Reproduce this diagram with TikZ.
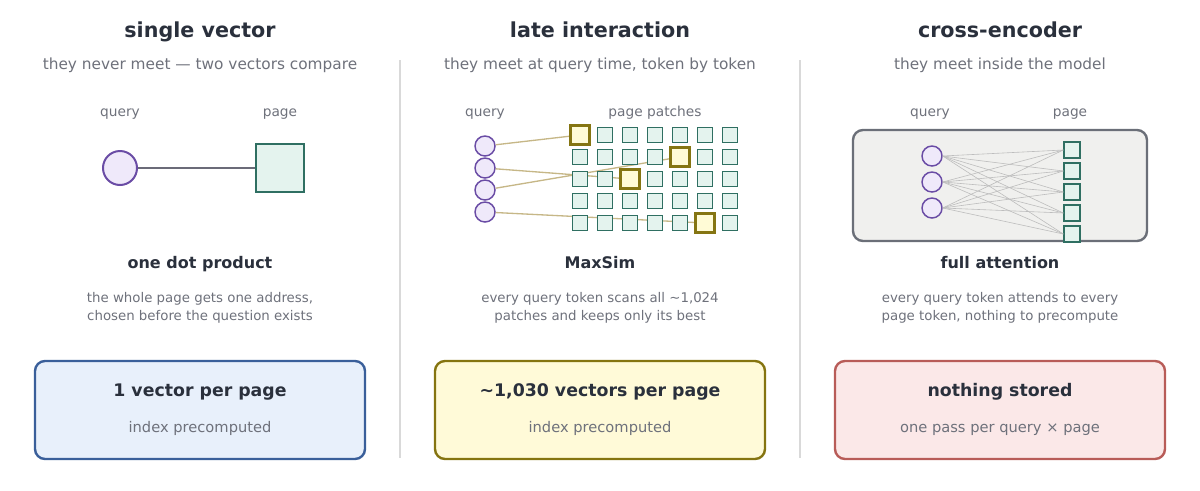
\documentclass[tikz,border=0pt]{standalone}
\usepackage{fontspec}
\setmainfont{DejaVu Sans}
\definecolor{ink}{HTML}{2A303C}
\definecolor{muted}{HTML}{6E717B}
\definecolor{qfill}{HTML}{EFE9FA}
\definecolor{qdraw}{HTML}{6A4CA5}
\definecolor{pfill}{HTML}{E4F3EE}
\definecolor{pdraw}{HTML}{2F6F62}
\definecolor{hfill}{HTML}{FFFBD6}
\definecolor{hdraw}{HTML}{857512}
\definecolor{tanline}{HTML}{C6B787}
\definecolor{divider}{HTML}{D9D9D9}
\definecolor{linkgray}{HTML}{6B6B78}
\definecolor{attn}{HTML}{BDBDBD}
\definecolor{encfill}{HTML}{F0F0EE}
\definecolor{encdraw}{HTML}{6B6F78}
\definecolor{bluefill}{HTML}{E8F0FB}
\definecolor{bluedraw}{HTML}{3A5F9A}
\definecolor{yelfill}{HTML}{FFFAD8}
\definecolor{yeldraw}{HTML}{857410}
\definecolor{redfill}{HTML}{FBE8E8}
\definecolor{reddraw}{HTML}{B85C58}
\tikzset{
  ptitle/.style={font=\bfseries\fontsize{15.5}{18}\selectfont, text=ink, inner sep=0pt, anchor=base},
  psub/.style={font=\fontsize{11.5}{14}\selectfont, text=muted, inner sep=0pt, anchor=base},
  plabel/.style={font=\fontsize{10.3}{12}\selectfont, text=muted, inner sep=0pt, anchor=base},
  phead/.style={font=\bfseries\fontsize{12}{14}\selectfont, text=ink, inner sep=0pt, anchor=base},
  pdesc/.style={font=\fontsize{10}{13.5}\selectfont, text=muted, inner sep=0pt, align=center},
  btitle/.style={font=\bfseries\fontsize{13}{16}\selectfont, text=ink, inner sep=0pt, anchor=base},
  bsub/.style={font=\fontsize{11}{14}\selectfont, text=muted, inner sep=0pt, anchor=base},
  qbig/.style={circle, draw=qdraw, fill=qfill, line width=1.5pt, minimum size=25.5pt, inner sep=0pt},
  qsmall/.style={circle, draw=qdraw, fill=qfill, line width=1.1pt, minimum size=15pt, inner sep=0pt},
  pbig/.style={rectangle, draw=pdraw, fill=pfill, line width=1.5pt, minimum size=36pt, inner sep=0pt},
  psmall/.style={rectangle, draw=pdraw, fill=pfill, line width=0.9pt, minimum size=11.5pt, inner sep=0pt},
  phigh/.style={rectangle, draw=hdraw, fill=hfill, line width=1.6pt, minimum size=14.25pt, inner sep=0pt},
  pmid/.style={rectangle, draw=pdraw, fill=pfill, line width=1.1pt, minimum size=12pt, inner sep=0pt},
  summary/.style={rectangle, rounded corners=7.5pt, line width=1.8pt, minimum width=247.5pt, minimum height=73.5pt, inner sep=0pt},
  divline/.style={draw=divider, line width=1.1pt},
  mlink/.style={draw=tanline, line width=1pt},
  alink/.style={draw=attn, line width=0.45pt}
}
\begin{document}
\begin{tikzpicture}[x=0.75pt,y=-0.75pt]
\useasboundingbox (0,0) rectangle (1200,490);
% dividers
\coordinate (d1t) at (400,60); \coordinate (d1b) at (400,458);
\coordinate (d2t) at (800,60); \coordinate (d2b) at (800,458);
\draw[divline] (d1t) -- (d1b);
\draw[divline] (d2t) -- (d2b);

% ===== left panel =====
\node[ptitle] (t1) at (200,37) {single vector};
\node[psub] (s1) at (200,69.5) {they never meet — two vectors compare};
\node[plabel] (lq1) at (120,116) {query};
\node[plabel] (lp1) at (280,116) {page};
\node[qbig] (q1) at (120,168) {};
\node[pbig] (pg1) at (280,168) {};
\draw[draw=linkgray, line width=1.5pt] (q1) -- (pg1);
\node[phead] (h1) at (200,268) {one dot product};
\node[pdesc] (e1) at (200,308) {the whole page gets one address,\\chosen before the question exists};
\node[summary, draw=bluedraw, fill=bluefill] (b1) at (200,410) {};
\node[btitle] (bt1) at (200,396.5) {1 vector per page};
\node[bsub] (bs1) at (200,432.5) {index precomputed};

% ===== middle panel =====
\node[ptitle] (t2) at (600,37) {late interaction};
\node[psub] (s2) at (600,69.5) {they meet at query time, token by token};
\node[plabel] (lq2) at (485,116) {query};
\node[plabel] (lp2) at (655,116) {page patches};
\foreach \i/\y in {1/146,2/168,3/190,4/212} {
  \node[qsmall] (m\i) at (485,\y) {};
}
\foreach \r/\y in {0/135,1/157,2/179,3/201,4/223} {
  \foreach \c/\x in {0/580,1/605,2/630,3/655,4/680,5/705,6/730} {
    \coordinate (g\r\c) at (\x,\y);
  }
}
\draw[mlink] (m1) -- (g00);
\draw[mlink] (m2) -- (g22);
\draw[mlink] (m3) -- (g14);
\draw[mlink] (m4) -- (g45);
\foreach \r in {0,...,4} {
  \foreach \c in {0,...,6} {
    \node[psmall] (p\r\c) at (g\r\c) {};
  }
}
\node[phigh] (hA) at (g00) {};
\node[phigh] (hB) at (g14) {};
\node[phigh] (hC) at (g22) {};
\node[phigh] (hD) at (g45) {};
\node[phead] (h2) at (600,268) {MaxSim};
\node[pdesc] (e2) at (600,308) {every query token scans all \textasciitilde1,024\\patches and keeps only its best};
\node[summary, draw=yeldraw, fill=yelfill] (b2) at (600,410) {};
\node[btitle] (bt2) at (600,396.5) {\textasciitilde1,030 vectors per page};
\node[bsub] (bs2) at (600,432.5) {index precomputed};

% ===== right panel =====
\node[ptitle] (t3) at (1000,37) {cross-encoder};
\node[psub] (s3) at (1000,69.5) {they meet inside the model};
\node[plabel] (lq3) at (930,116) {query};
\node[plabel] (lp3) at (1070,116) {page};
\node[rectangle, rounded corners=7.5pt, draw=encdraw, fill=encfill, line width=1.8pt, minimum width=220.5pt, minimum height=83.25pt] (enc) at (1000,185.5) {};
\foreach \i/\y in {1/156,2/182,3/208} {
  \node[qsmall] (a\i) at (932,\y) {};
}
\foreach \j/\y in {1/150,2/171,3/192,4/213,5/234} {
  \node[pmid] (c\j) at (1072,\y) {};
}
\foreach \i in {1,2,3} {
  \foreach \j in {1,...,5} {
    \draw[alink] (a\i.east) -- (c\j.west);
  }
}
\node[phead] (h3) at (1000,268) {full attention};
\node[pdesc] (e3) at (1000,308) {every query token attends to every\\page token, nothing to precompute};
\node[summary, draw=reddraw, fill=redfill] (b3) at (1000,410) {};
\node[btitle] (bt3) at (1000,396.5) {nothing stored};
\node[bsub] (bs3) at (1000,432.5) {one pass per query × page};
\end{tikzpicture}
\end{document}
